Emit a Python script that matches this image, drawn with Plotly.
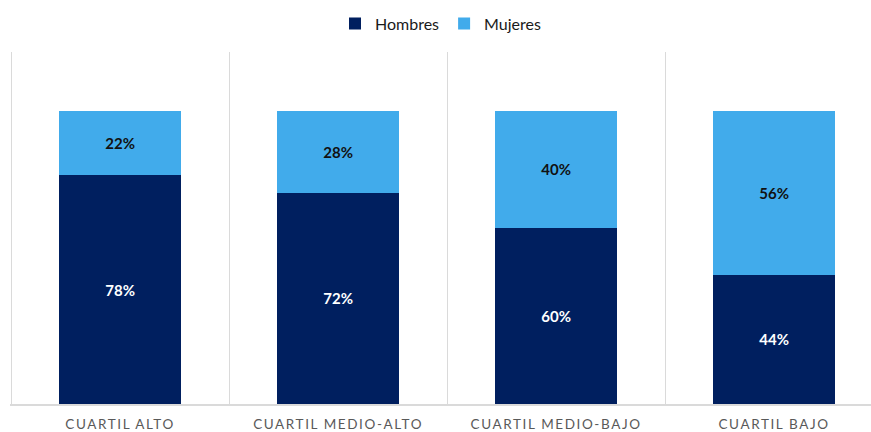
import plotly.graph_objects as go

categories = ["CUARTIL ALTO", "CUARTIL MEDIO-ALTO", "CUARTIL MEDIO-BAJO", "CUARTIL BAJO"]
hombres = [78, 72, 60, 44]
mujeres = [22, 28, 40, 56]

NAVY = "#001F5F"
SKY = "#41ABEB"
GRID = "#DADADA"
FONT = "Lato, Open Sans, sans-serif"

x_idx = list(range(len(categories)))
tick_labels = [f'<span style="letter-spacing:1.6px">{c}</span>' for c in categories]

fig = go.Figure()
fig.add_trace(go.Bar(
    name="Hombres", x=x_idx, y=[v / 100 for v in hombres],
    marker=dict(color=NAVY, line=dict(width=0)),
    text=[f"<b>{v}%</b>" for v in hombres], textposition="inside",
    insidetextanchor="middle", textangle=0,
    textfont=dict(color="white", size=15, family=FONT),
    width=0.56,
))
fig.add_trace(go.Bar(
    name="Mujeres", x=x_idx, y=[v / 100 for v in mujeres],
    marker=dict(color=SKY, line=dict(width=0)),
    text=[f"<b>{v}%</b>" for v in mujeres], textposition="inside",
    insidetextanchor="middle", textangle=0,
    textfont=dict(color="#111111", size=15, family=FONT),
    width=0.56,
))

fig.update_layout(
    barmode="stack",
    width=871, height=432,
    margin=dict(l=10, r=0, t=52, b=26),
    paper_bgcolor="white", plot_bgcolor="white",
    font=dict(family=FONT, color="#222222"),
    showlegend=True,
    legend=dict(
        orientation="h", x=0.5, xanchor="center", y=0.985, yanchor="top",
        yref="container", font=dict(size=16, color="#1a1a1a"),
        traceorder="normal", itemwidth=30,
    ),
    uniformtext=dict(minsize=10, mode="show"),
)

fig.update_xaxes(
    tickmode="array", tickvals=x_idx, ticktext=tick_labels,
    range=[-0.505, -0.505 + 861 / 218],
    showgrid=False, zeroline=False,
    showline=True, linecolor=GRID, linewidth=1.5,
    ticks="", ticklabelstandoff=7,
    tickfont=dict(size=13.5, color="#595959", family=FONT),
    minor=dict(tickmode="linear", tick0=-0.5, dtick=1, showgrid=True,
               gridcolor=GRID, gridwidth=1, ticks=""),
)
fig.update_yaxes(
    range=[0, 1.2], visible=False, showgrid=False, zeroline=False,
)

fig.write_html("out.html")
